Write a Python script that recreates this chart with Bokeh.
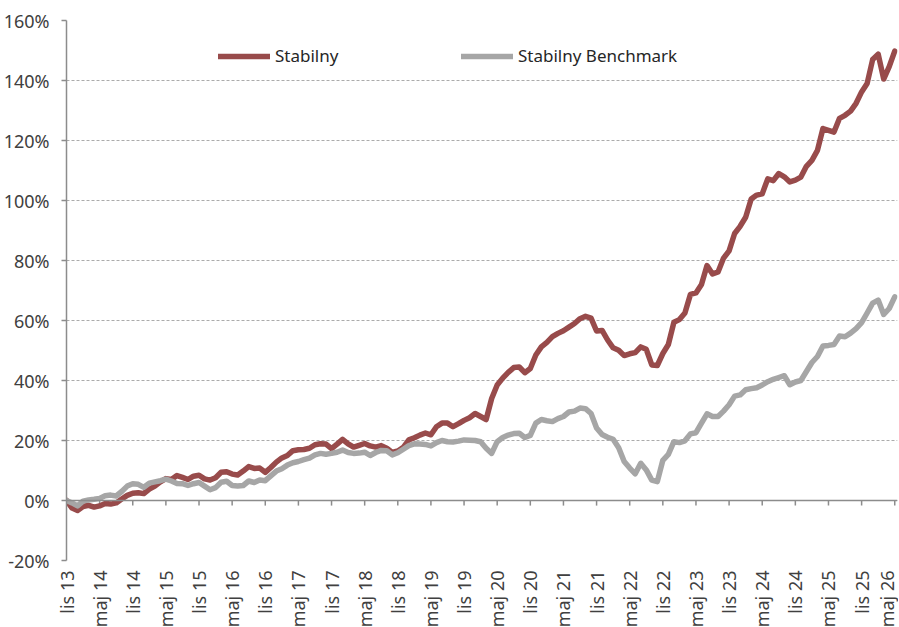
from math import pi
from bokeh.plotting import figure
from bokeh.models import (ColumnDataSource, FixedTicker, PrintfTickFormatter, Span,
                          Legend, LegendItem)
from bokeh.embed import file_html
from bokeh.resources import INLINE

# ---- data (monthly, Nov 2013 .. ) ----
months = list(range(151))
stabilny = [
    0.0, -2.5, -3.3, -2.0, -1.6, -2.2, -1.8, -1.0, -1.2, -0.8,
    0.5, 1.7, 2.4, 2.6, 2.3, 3.8, 4.8, 6.2, 7.3, 7.0,
    8.3, 7.7, 7.0, 8.1, 8.4, 7.2, 6.8, 7.6, 9.4, 9.6,
    8.8, 8.5, 9.8, 11.3, 10.7, 10.8, 9.4, 11.0, 12.8, 14.2,
    15.0, 16.6, 16.9, 17.0, 17.4, 18.6, 18.9, 18.8, 17.3, 18.8,
    20.4, 18.9, 17.8, 18.4, 19.0, 18.2, 17.8, 18.3, 17.4, 16.0,
    16.5, 17.7, 20.2, 20.9, 21.8, 22.5, 21.9, 24.6, 25.8, 25.8,
    24.6, 25.6, 26.7, 27.6, 29.0, 28.0, 27.0, 34.0, 38.5, 40.8,
    42.7, 44.3, 44.5, 42.6, 44.0, 48.5, 51.2, 52.7, 54.6, 55.7,
    56.6, 57.8, 59.0, 60.6, 61.4, 60.8, 56.5, 56.7, 53.5, 50.9,
    50.1, 48.3, 48.9, 49.3, 51.2, 50.4, 45.2, 45.0, 49.0, 52.0,
    59.4, 60.3, 62.5, 68.7, 69.2, 72.0, 78.3, 75.5, 76.2, 80.8,
    83.2, 89.0, 91.4, 94.4, 100.5, 101.8, 102.2, 107.2, 106.6, 109.0,
    107.9, 106.2, 106.8, 107.8, 111.4, 113.4, 116.7, 124.0, 123.4, 122.8,
    127.4, 128.4, 129.8, 132.4, 136.2, 139.0, 147.0, 148.8, 140.5, 144.6,
    149.8,
]
benchmark = [
    0.0, -0.8, -1.8, -0.2, 0.2, 0.4, 0.7, 1.6, 1.8, 1.5,
    3.0, 4.8, 5.6, 5.4, 4.4, 5.8, 6.2, 6.6, 7.1, 6.5,
    5.7, 5.6, 5.0, 5.6, 6.0, 4.8, 3.6, 4.3, 6.1, 6.4,
    5.0, 4.8, 5.0, 6.5, 6.0, 6.8, 6.6, 8.2, 9.8, 10.6,
    11.8, 12.6, 13.0, 13.6, 14.1, 15.2, 15.7, 15.4, 15.7, 16.1,
    16.8, 16.0, 15.7, 15.8, 16.1, 15.0, 16.0, 16.7, 16.6, 15.2,
    15.9, 17.1, 18.3, 18.9, 18.8, 18.7, 18.2, 19.3, 20.0, 19.6,
    19.5, 19.8, 20.2, 20.1, 20.0, 19.6, 17.4, 15.7, 19.6, 21.0,
    21.8, 22.3, 22.4, 21.0, 21.7, 25.8, 27.0, 26.6, 26.3, 27.3,
    28.0, 29.5, 29.8, 30.8, 30.6, 29.0, 24.2, 22.0, 21.1, 20.4,
    17.6, 13.0, 10.8, 8.9, 12.4, 10.2, 6.8, 6.3, 13.4, 15.4,
    19.6, 19.3, 19.9, 22.2, 22.6, 25.8, 28.9, 28.0, 28.0, 29.8,
    31.9, 34.8, 35.2, 36.9, 37.3, 37.6, 38.5, 39.6, 40.4, 41.0,
    41.6, 38.6, 39.5, 40.0, 43.0, 46.0, 48.0, 51.5, 51.7, 52.0,
    54.8, 54.6, 55.8, 57.3, 59.3, 62.5, 65.8, 66.8, 62.0, 64.0,
    67.9,
]
tick_positions = list(range(0, 151, 6))
tick_labels = ["lis 13", "maj 14", "lis 14", "maj 15", "lis 15", "maj 16", "lis 16",
               "maj 17", "lis 17", "maj 18", "lis 18", "maj 19", "lis 19", "maj 20",
               "lis 20", "maj 21", "lis 21", "maj 22", "lis 22", "maj 23", "lis 23",
               "maj 24", "lis 24", "maj 25", "lis 25", "maj 26"]
y_ticks = [-20, 0, 20, 40, 60, 80, 100, 120, 140, 160]
series_names = ["Stabilny", "Stabilny Benchmark"]

FONT = "Noto Sans"
RED = "#984B4B"
GRAY = "#A6A6A6"
AXIS = "#8C8C8C"

src = ColumnDataSource(dict(m=months, s=stabilny, b=benchmark))

p = figure(frame_width=831, frame_height=540, x_range=(0, 150.5), y_range=(-20, 160),
           output_backend="svg", toolbar_location=None,
           min_border_left=66, min_border_top=20, min_border_right=1, min_border_bottom=40)
p.outline_line_color = None
p.background_fill_color = "white"

# y axis
p.yaxis.ticker = FixedTicker(ticks=y_ticks)
p.yaxis.formatter = PrintfTickFormatter(format="%d%%")
p.yaxis.axis_line_color = AXIS
p.yaxis.axis_line_width = 1.5
p.yaxis.major_tick_line_color = AXIS
p.yaxis.major_tick_line_width = 1.5
p.yaxis.major_tick_out = 5
p.yaxis.major_tick_in = 0
p.yaxis.minor_tick_line_color = None
p.yaxis.major_label_standoff = 12
p.yaxis.major_label_text_font = FONT
p.yaxis.major_label_text_font_size = "18px"
p.yaxis.major_label_text_color = "#404040"

# x axis (labels at bottom, line at zero)
p.xaxis.ticker = FixedTicker(ticks=tick_positions)
p.xaxis.major_label_overrides = {t: l for t, l in zip(tick_positions, tick_labels)}
p.xaxis.axis_line_color = None
p.xaxis.major_tick_line_color = None
p.xaxis.minor_tick_line_color = None
p.xaxis.major_tick_out = 0
p.xaxis.major_tick_in = 0
p.xaxis.major_label_standoff = 10
p.xaxis.major_label_orientation = pi / 2
p.xaxis.major_label_text_font = FONT
p.xaxis.major_label_text_font_size = "18px"
p.xaxis.major_label_text_color = "#404040"

p.xgrid.grid_line_color = None
p.ygrid.ticker = FixedTicker(ticks=y_ticks)
p.ygrid.grid_line_color = "#ABABAB"
p.ygrid.grid_line_dash = "3 2"
p.ygrid.grid_line_width = 1

# zero line and its tick marks
p.add_layout(Span(location=0, dimension="width", line_color=AXIS, line_width=1.5))
p.segment(x0=tick_positions, y0=[0] * len(tick_positions), x1=tick_positions,
          y1=[-1.7] * len(tick_positions), line_color=AXIS, line_width=1.5)

r1 = p.line("m", "s", source=src, line_color=RED, line_width=5.5,
            line_join="round", line_cap="round")
r2 = p.line("m", "b", source=src, line_color=GRAY, line_width=5.5,
            line_join="round", line_cap="round")

legend = Legend(items=[LegendItem(label=series_names[0], renderers=[r1]),
                       LegendItem(label=series_names[1], renderers=[r2])],
                orientation="horizontal", location=(152, 493),
                border_line_color=None, background_fill_alpha=0,
                padding=0, margin=0, spacing=0, glyph_width=52, glyph_height=20,
                label_standoff=5, label_width=186,
                label_text_font=FONT, label_text_font_size="17px",
                label_text_color="#262626")
p.add_layout(legend)

open("out.html", "w").write(file_html(p, INLINE))
